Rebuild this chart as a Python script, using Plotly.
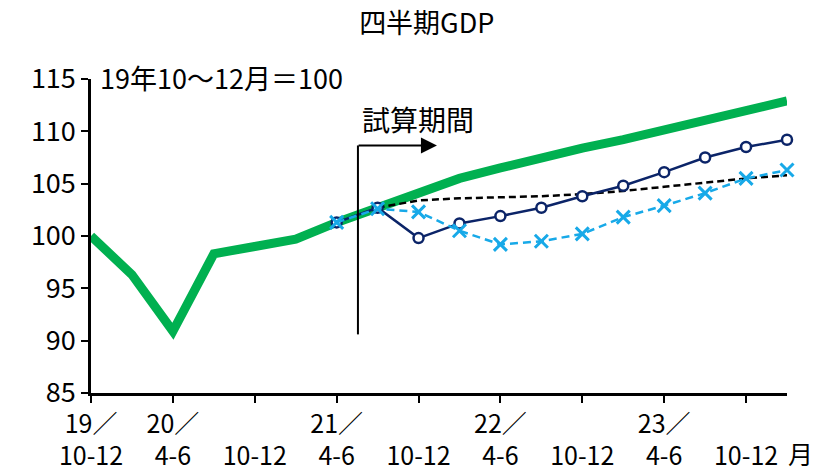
import plotly.graph_objects as go

# Quarterly periods, 2019 Oct-Dec through 2024 Jan-Mar
quarters = ["19/10-12", "20/1-3", "20/4-6", "20/7-9", "20/10-12", "21/1-3",
            "21/4-6", "21/7-9", "21/10-12", "22/1-3", "22/4-6", "22/7-9",
            "22/10-12", "23/1-3", "23/4-6", "23/7-9", "23/10-12", "24/1-3"]

# Real GDP index (2019 Oct-Dec = 100)
gdp_actual = [100.0, 96.3, 90.9, 98.3, 99.0, 99.7, 101.3, 102.7, 104.2, 105.5,
              106.5, 107.5, 108.4, 109.2, 110.1, 110.9, 111.9, 112.9]
gdp_case_a = [None, None, None, None, None, None, 101.3, 102.7, 99.8, 101.2,
              101.9, 102.7, 103.8, 104.8, 106.1, 107.5, 108.5, 109.2]
gdp_case_b = [None, None, None, None, None, None, 101.3, 102.6, 102.3, 100.5,
              99.2, 99.5, 100.2, 101.8, 102.9, 104.1, 105.5, 106.3]
gdp_trend = [None, None, None, None, None, None, None, 102.7, 103.4, 103.6,
             103.7, 103.8, 104.0, 104.3, 104.7, 105.1, 105.5, 105.8]

# Axis ticks
tick_quarters = quarters[::2]
tick_labels = ["19／<br>10-12", "20／<br>4-6", " <br>10-12", "21／<br>4-6",
               " <br>10-12", "22／<br>4-6", " <br>10-12", "23／<br>4-6",
               " <br>10-12"]
y_ticks = [85, 90, 95, 100, 105, 110, 115]

FONT = "Noto Sans CJK JP"

fig = go.Figure()
fig.add_trace(go.Scatter(
    x=quarters, y=gdp_actual, mode="lines", cliponaxis=False,
    line=dict(color="#00B050", width=9), hoverinfo="y"))
fig.add_trace(go.Scatter(
    x=quarters, y=gdp_trend, mode="lines",
    line=dict(color="#000000", width=2.5, dash="7px,4px"), hoverinfo="y"))
fig.add_trace(go.Scatter(
    x=quarters, y=gdp_case_a, mode="lines+markers", cliponaxis=False,
    line=dict(color="#0B2468", width=2.5),
    marker=dict(symbol="circle", size=10, color="white",
                line=dict(color="#0B2468", width=2.5)), hoverinfo="y"))
fig.add_trace(go.Scatter(
    x=quarters, y=gdp_case_b, mode="lines+markers", cliponaxis=False,
    line=dict(color="#17A9E8", width=2.5, dash="8px,5px"),
    marker=dict(symbol="x-thin", size=13,
                line=dict(color="#17A9E8", width=3)), hoverinfo="y"))

# Start of the estimation period: vertical rule with an arrow to the right
arrow_x0 = 6.52
arrow_x1 = 8.45
arrow_y0 = 90.6
arrow_y1 = 108.65
fig.add_shape(type="line", xref="x", yref="y",
              x0=arrow_x0, x1=arrow_x0, y0=arrow_y0, y1=arrow_y1,
              line=dict(color="black", width=2))
fig.add_annotation(x=arrow_x1, y=arrow_y1, ax=arrow_x0 - 0.02, ay=arrow_y1,
                   xref="x", yref="y", axref="x", ayref="y",
                   text="", showarrow=True, arrowhead=2, arrowsize=1.6,
                   arrowwidth=2, arrowcolor="black", standoff=0)
fig.add_annotation(x=6.57, y=111.15, xref="x", yref="y", text="試算期間",
                   showarrow=False, xanchor="left", yanchor="middle",
                   font=dict(family=FONT, size=28, color="black"))

fig.add_annotation(x=0.01, y=1.006, xref="paper", yref="paper",
                   text="19年10～12月＝100", showarrow=False,
                   xanchor="left", yanchor="middle",
                   font=dict(family=FONT, size=27, color="black"))
fig.add_annotation(x=1.0187, y=-0.19, xref="paper", yref="paper",
                   text="月", showarrow=False,
                   xanchor="center", yanchor="middle",
                   font=dict(family=FONT, size=25, color="black"))

fig.update_layout(
    width=816, height=473,
    margin=dict(l=91, r=29, t=79, b=80),
    paper_bgcolor="white", plot_bgcolor="white",
    showlegend=False,
    font=dict(family=FONT, size=27, color="black"),
    title=dict(text="四半期GDP", x=0.523, xanchor="center",
               y=1 - 24 / 473, yanchor="middle",
               font=dict(family=FONT, size=27, color="black")),
    xaxis=dict(
        type="category", range=[0, 17], automargin=False,
        tickmode="array", tickvals=tick_quarters, ticktext=tick_labels,
        ticks="outside", ticklen=7, tickwidth=2, tickcolor="black",
        ticklabelstandoff=0,
        showline=True, linecolor="black", linewidth=2.5,
        showgrid=False, zeroline=False,
        tickfont=dict(family=FONT, size=25, color="black")),
    yaxis=dict(
        range=[85, 115], tickmode="array", tickvals=y_ticks, automargin=False,
        ticks="outside", ticklen=7, tickwidth=2, tickcolor="black",
        showline=True, linecolor="black", linewidth=2.5,
        showgrid=False, zeroline=False,
        tickfont=dict(family=FONT, size=27, color="black")),
)

fig.write_html("out.html")
